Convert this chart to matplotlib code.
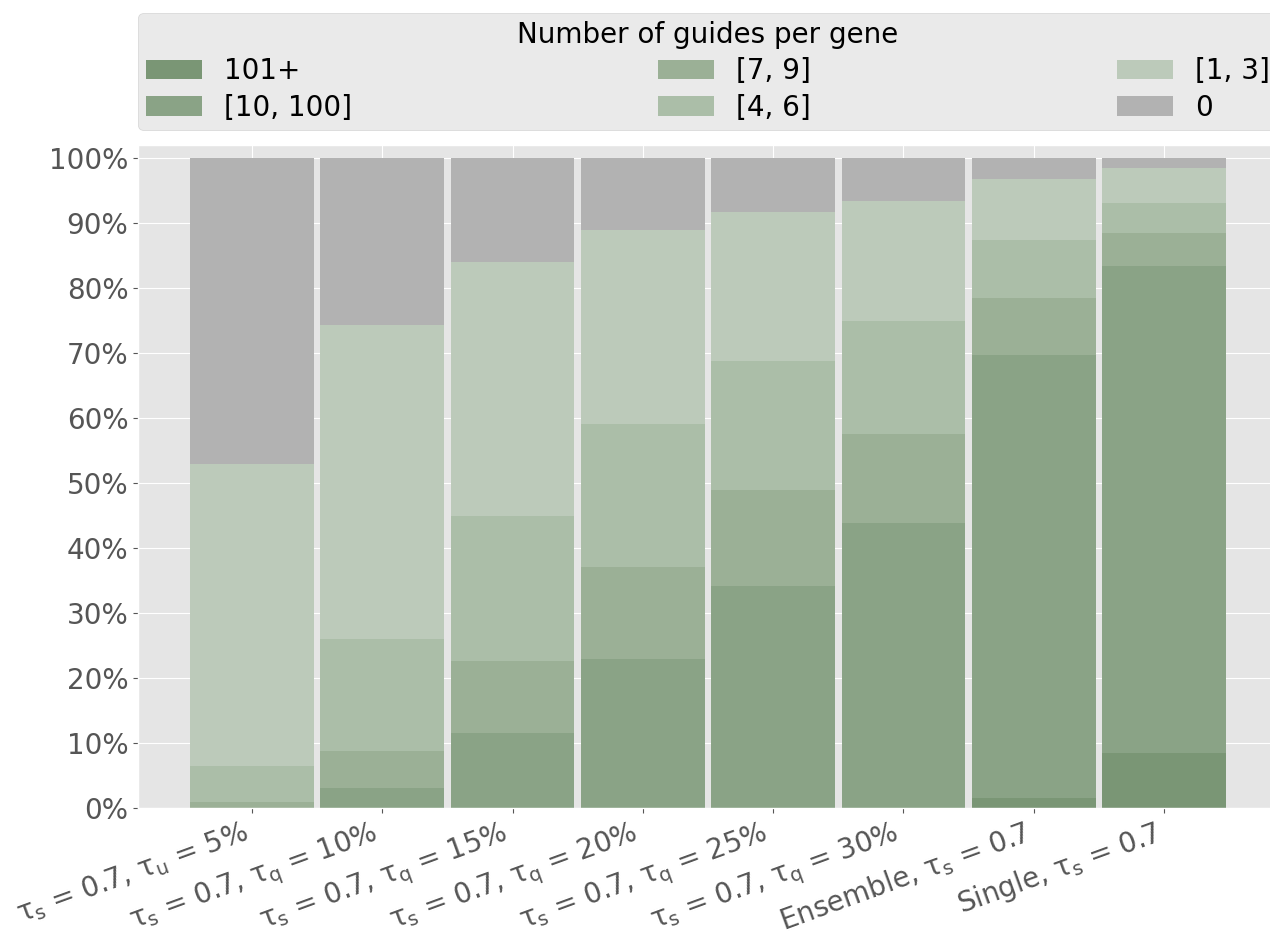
import numpy as np
import matplotlib
matplotlib.use('Agg')
import matplotlib.pyplot as plt
from matplotlib.ticker import PercentFormatter

plt.style.use('ggplot')
plt.rcParams['mathtext.default'] = 'regular'

categories = [r'$\tau_s$ = 0.7, $\tau_u$ = 5%',
              r'$\tau_s$ = 0.7, $\tau_q$ = 10%',
              r'$\tau_s$ = 0.7, $\tau_q$ = 15%',
              r'$\tau_s$ = 0.7, $\tau_q$ = 20%',
              r'$\tau_s$ = 0.7, $\tau_q$ = 25%',
              r'$\tau_s$ = 0.7, $\tau_q$ = 30%',
              r'Ensemble, $\tau_s$ = 0.7',
              r'Single, $\tau_s$ = 0.7']

# share of genes (%) in each bin, bottom to top
g_101 = [0, 0, 0, 0, 0, 0, 1.5, 8.5]
g_10_100 = [0, 3.1, 11.5, 22.9, 34.2, 43.8, 68.3, 74.9]
g_7_9 = [1.0, 5.7, 11.2, 14.2, 14.7, 13.7, 8.7, 5.1]
g_4_6 = [5.5, 17.2, 22.3, 22.0, 19.9, 17.4, 9.0, 4.6]
g_1_3 = [46.5, 48.3, 39.0, 29.8, 23.0, 18.6, 9.3, 5.4]
g_0 = [47.0, 25.7, 16.0, 11.1, 8.2, 6.5, 3.2, 1.5]

series = [('101+', g_101, '#7a9675'),
          ('[10, 100]', g_10_100, '#8aa386'),
          ('[7, 9]', g_7_9, '#9bb096'),
          ('[4, 6]', g_4_6, '#abbea8'),
          ('[1, 3]', g_1_3, '#bccaba'),
          ('0', g_0, '#b2b2b2')]

fig = plt.figure(figsize=(12.7, 9.32), dpi=100)
ax = fig.add_axes([0.1087, 0.133, 0.8976, 0.711])

x = np.arange(len(categories))
bottom = np.zeros(len(categories))
for name, vals, col in series:
    ax.bar(x, vals, width=0.95, bottom=bottom, color=col, label=name)
    bottom += np.array(vals)

ax.set_xlim(-0.875, 7.875)
ax.set_ylim(0, 102)
ax.set_yticks(np.arange(0, 101, 10))
ax.yaxis.set_major_formatter(PercentFormatter(100, decimals=0))
ax.set_xticks(x)
ax.set_xticklabels(categories, rotation=20, ha='right')
ax.tick_params(labelsize=20)

ax.legend(title='Number of guides per gene', ncol=3, loc='lower left',
          bbox_to_anchor=(0, 1.023, 1, 0.1), mode='expand', borderaxespad=0,
          fontsize=20, title_fontsize=20, labelspacing=0.3, borderpad=0.3)

fig.savefig('out.png', dpi=100)
